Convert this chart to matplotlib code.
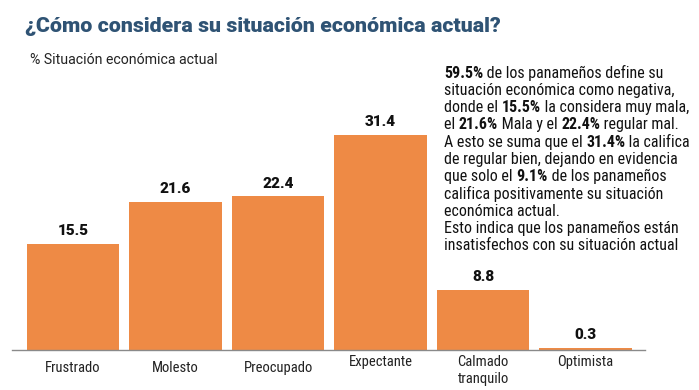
import matplotlib
matplotlib.use("Agg")
import matplotlib.pyplot as plt
import matplotlib.transforms as mtransforms
from matplotlib import font_manager
from matplotlib.font_manager import FontProperties

categories = ["Frustrado", "Molesto", "Preocupado", "Expectante", "Calmado\ntranquilo", "Optimista"]
values = [15.5, 21.6, 22.4, 31.4, 8.8, 0.3]
value_labels = ["15.5", "21.6", "22.4", "31.4", "8.8", "0.3"]

title = "¿Cómo considera su situación económica actual?"
subtitle = "% Situación económica actual"
note_lines = [
    [("59.5%", True), (" de los panameños define su", False)],
    [("situación económica como negativa,", False)],
    [("donde el ", False), ("15.5%", True), (" la considera muy mala,", False)],
    [("el ", False), ("21.6%", True), (" Mala y el ", False), ("22.4%", True), (" regular mal.", False)],
    [("A esto se suma que el ", False), ("31.4%", True), (" la califica", False)],
    [("de regular bien, dejando en evidencia", False)],
    [("que solo el ", False), ("9.1%", True), (" de los panameños", False)],
    [("califica positivamente su situación", False)],
    [("económica actual.", False)],
    [("Esto indica que los panameños están", False)],
    [("insatisfechos con su situación actual", False)],
]

files = [f.fname for f in font_manager.fontManager.ttflist]
def find(keys):
    for k in keys:
        for f in files:
            if f.endswith(k):
                return f
    return None

cond_reg = find(["RobotoCondensed-Regular.ttf", "LiberationSansNarrow-Regular.ttf", "DejaVuSansCondensed.ttf"])
cond_bold = find(["RobotoCondensed-Bold.ttf", "LiberationSansNarrow-Bold.ttf", "DejaVuSansCondensed-Bold.ttf"])
rob_reg = find(["Roboto-Regular.ttf", "DejaVuSans.ttf"])
rob_heavy = find(["Roboto-Black.ttf", "Roboto-Bold.ttf", "DejaVuSans-Bold.ttf"])

def fp(f, size):
    if f:
        return FontProperties(fname=f, size=size)
    return FontProperties(family="DejaVu Sans", size=size)

W, H = 699, 390
fig = plt.figure(figsize=(W / 100, H / 100), dpi=100)
fig.patch.set_facecolor("white")

ax = fig.add_axes([12 / W, 1 - 350 / H, 633 / W, 274.5 / H])
x = list(range(len(categories)))
ax.bar(x, values, width=0.9, color="#ee8a45", zorder=2)
ax.set_xlim(-0.595, 5.58)
ax.set_ylim(0, 40)
for s in ["top", "right", "left"]:
    ax.spines[s].set_visible(False)
ax.spines["bottom"].set_color("#8a8a8a")
ax.spines["bottom"].set_linewidth(1.0)
ax.set_yticks([])
ax.set_xticks(x)
ax.set_xticklabels(categories, fontproperties=fp(cond_reg, 10.5), color="#222222",
                   va="top", linespacing=1.3)
ax.tick_params(axis="x", length=0, pad=8)
shifts = [0, 0, 0, -6, -6, -6]
for lab, dy in zip(ax.get_xticklabels(), shifts):
    lab.set_transform(lab.get_transform() + mtransforms.ScaledTranslation(0, -dy / 100, fig.dpi_scale_trans))

for xi, v, t in zip(x, values, value_labels):
    ax.annotate(t, (xi, v), xytext=(0, 4), textcoords="offset points",
                ha="center", va="bottom", fontproperties=fp(rob_heavy, 11),
                color="#111111")

fig.text(25 / W, 1 - 27 / H, title, fontproperties=fp(rob_heavy, 15.4),
         color="#2f5374", va="center", ha="left")
fig.text(30 / W, 1 - 60 / H, subtitle, fontproperties=fp(rob_reg, 10.2),
         color="#222222", va="center", ha="left")

fig.canvas.draw()
renderer = fig.canvas.get_renderer()
x0 = 444
y0 = 73
dy = 17.3
for i, line in enumerate(note_lines):
    xp = x0
    yp = 1 - (y0 + i * dy) / H
    for seg, bold in line:
        t = fig.text(xp / W, yp, seg, fontproperties=fp(cond_bold if bold else cond_reg, 11.5),
                     color="#111111", va="center", ha="left")
        bb = t.get_window_extent(renderer=renderer)
        xp += bb.width

fig.savefig("out.png", dpi=100, facecolor="white")
